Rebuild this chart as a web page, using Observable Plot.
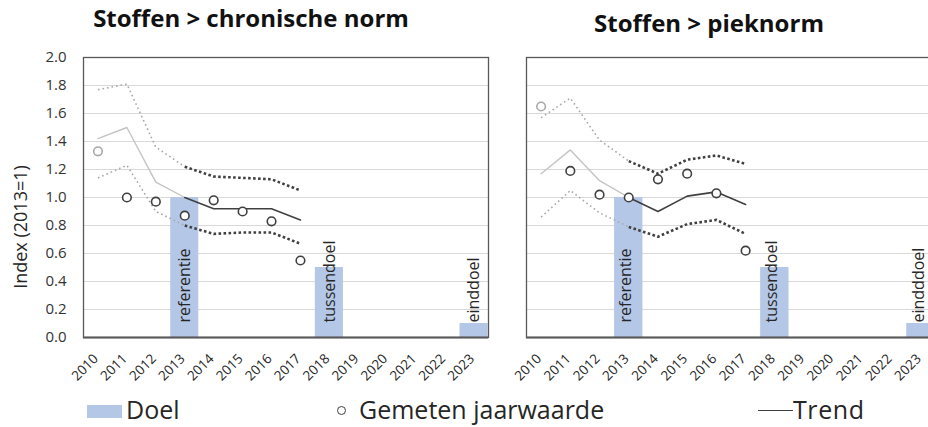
<!DOCTYPE html>
<html>
<head>
<meta charset="utf-8">
<script src="https://cdn.jsdelivr.net/npm/d3@7"></script>
<script src="https://cdn.jsdelivr.net/npm/@observablehq/plot@0.6"></script>
<style>
  html, body { margin: 0; padding: 0; background: #fff; }
  body { width: 928px; height: 427px; overflow: hidden; position: relative; font-family: "Open Sans", sans-serif; color: #262626; }
  .title { position: absolute; font-weight: bold; font-size: 24px; line-height: 24px; color: #111; white-space: nowrap; transform: translateX(-50%); }
  .ylab { position: absolute; font-size: 18px; line-height: 18px; white-space: nowrap; color: #262626; transform: translate(-50%, -50%) rotate(-90deg); }
  .plot { position: absolute; }
  .plot svg { max-width: none !important; }
  .legend { position: absolute; font-size: 25px; line-height: 25px; white-space: nowrap; color: #262626; }
</style>
</head>
<body>
<div class="title" style="left:251px; top:6px;">Stoffen &gt; chronische norm</div>
<div class="title" style="left:709px; top:11px;">Stoffen &gt; pieknorm</div>
<div class="ylab" style="left:20px; top:227px;">Index (2013=1)</div>
<div id="left" class="plot" style="left:0px; top:40px; width:500px;"></div>
<div id="right" class="plot" style="left:500px; top:40px; width:440px;"></div>
<div id="legend"></div>
<script>
// ---- data ----
const years = ["2010","2011","2012","2013","2014","2015","2016","2017","2018","2019","2020","2021","2022","2023"];
const measYears = ["2010","2011","2012","2013","2014","2015","2016","2017"];
const yTicks = [0, 0.2, 0.4, 0.6, 0.8, 1.0, 1.2, 1.4, 1.6, 1.8, 2.0];

// Stoffen > chronische norm
const chronMeasured = [1.33, 1.00, 0.97, 0.87, 0.98, 0.90, 0.83, 0.55];
const chronTrend    = [1.42, 1.50, 1.11, 1.00, 0.92, 0.92, 0.92, 0.84];
const chronUpper    = [1.77, 1.81, 1.36, 1.22, 1.15, 1.14, 1.13, 1.05];
const chronLower    = [1.14, 1.23, 0.90, 0.80, 0.74, 0.75, 0.75, 0.67];

// Stoffen > pieknorm
const piekMeasured = [1.65, 1.19, 1.02, 1.00, 1.13, 1.17, 1.03, 0.62];
const piekTrend    = [1.17, 1.34, 1.12, 1.00, 0.90, 1.01, 1.04, 0.95];
const piekUpper    = [1.57, 1.71, 1.41, 1.26, 1.17, 1.27, 1.30, 1.24];
const piekLower    = [0.86, 1.05, 0.89, 0.79, 0.72, 0.81, 0.84, 0.74];

// Doel
const goalYears = ["2013", "2018", "2023"];
const goalValues = [1.0, 0.5, 0.1];
const chronGoalLabels = ["referentie", "tussendoel", "einddoel"];
const piekGoalLabels = ["referentie", "tussendoel", "eindddoel"];

// legend
const legendLabels = ["Doel", "Gemeten jaarwaarde", "Trend"];

// ---- styles ----
const BAR = "#b4c7e7";
const DARK = "#404040";
const LIGHT = "#c4c4c4";

function segments(arr) {
  const early = [], late = [];
  measYears.forEach((yr, i) => {
    if (i <= 3) early.push({year: yr, value: arr[i]});
    if (i >= 3) late.push({year: yr, value: arr[i]});
  });
  return {early, late};
}

function panel({measured, trend, upper, lower, labels, showY, width, marginLeft, marginRight, labelDx}) {
  const goals = goalYears.map((yr, i) => ({year: yr, value: goalValues[i], label: labels[i]}));
  const pts = measYears.map((yr, i) => ({year: yr, value: measured[i], first: i === 0}));
  const t = segments(trend), u = segments(upper), l = segments(lower);
  const earlyDot = {stroke: "#a8a8a8", strokeWidth: 1.6, strokeDasharray: "1.6,3", strokeLinecap: "butt"};
  const lateDot = {stroke: DARK, strokeWidth: 2.6, strokeDasharray: "2.6,2.4", strokeLinecap: "butt"};
  const marks = [
    Plot.gridY(yTicks, {stroke: "#d9d9d9", strokeOpacity: 1, strokeWidth: 1.2}),
    Plot.barY(goals, {x: "year", y: "value", fill: BAR}),
    Plot.text(goals, {x: "year", y: 0, text: "label", rotate: -90, textAnchor: "start", lineAnchor: "middle", dy: -15, dx: labelDx, fontSize: 16, fill: "#262626"}),
    // early (light) segments
    Plot.lineY(u.early, {x: "year", y: "value", ...earlyDot}),
    Plot.lineY(l.early, {x: "year", y: "value", ...earlyDot}),
    Plot.lineY(t.early, {x: "year", y: "value", stroke: LIGHT, strokeWidth: 1.4}),
    // late (dark) segments
    Plot.lineY(u.late, {x: "year", y: "value", ...lateDot}),
    Plot.lineY(l.late, {x: "year", y: "value", ...lateDot}),
    Plot.lineY(t.late, {x: "year", y: "value", stroke: DARK, strokeWidth: 1.6}),
    Plot.dot(pts, {x: "year", y: "value", r: 4.3, fill: "white", stroke: d => d.first ? "#a8a8a8" : DARK, strokeWidth: 1.6}),
    Plot.frame({stroke: "#595959", strokeWidth: 1.3}),
    Plot.ruleY([0], {stroke: "#595959", strokeWidth: 2}),
    Plot.axisX({tickRotate: -45, tickSize: 0, tickPadding: 19, dx: -2, fontSize: 13.5, fill: "#262626", label: null})
  ];
  if (showY) {
    marks.push(Plot.axisY(yTicks, {tickSize: 0, tickPadding: 17, fontSize: 15, fill: "#333", tickFormat: d => d.toFixed(1), label: null}));
  }
  return Plot.plot({
    width, height: 347,
    marginLeft, marginRight, marginTop: 17, marginBottom: 50,
    x: {type: "band", domain: years, paddingInner: 0.03, paddingOuter: 0.015, round: false, label: null},
    y: {domain: [0, 2], label: null, axis: showY ? undefined : null},
    style: {fontFamily: "Open Sans", background: "transparent", overflow: "visible", color: "#262626", maxWidth: "none"},
    marks
  });
}

document.getElementById("left").append(panel({
  measured: chronMeasured, trend: chronTrend, upper: chronUpper, lower: chronLower,
  labels: chronGoalLabels, showY: true, width: 500, marginLeft: 83, marginRight: 12, labelDx: 0
}));
document.getElementById("right").append(panel({
  measured: piekMeasured, trend: piekTrend, upper: piekUpper, lower: piekLower,
  labels: piekGoalLabels, showY: false, width: 440, marginLeft: 26, marginRight: 5, labelDx: -2.5
}));

// ---- legend ----
const lg = document.getElementById("legend");
function addLegend(html, left) {
  const d = document.createElement("div");
  d.className = "legend";
  d.style.left = left + "px";
  d.style.top = "397px";
  d.innerHTML = html;
  lg.append(d);
}
addLegend(`<span style="display:inline-block;width:35px;height:13px;background:${BAR};vertical-align:1px;margin-right:4px"></span>${legendLabels[0]}`, 87);
addLegend(`<span style="display:inline-block;width:7px;height:7px;border:1.4px solid ${DARK};border-radius:50%;vertical-align:4px;margin-right:13px"></span>${legendLabels[1]}`, 337);
addLegend(`<span style="display:inline-block;width:35px;height:0;border-top:1.8px solid ${DARK};vertical-align:8px;margin-right:0px"></span><span style="letter-spacing:0.6px">${legendLabels[2]}</span>`, 758);
</script>
</body>
</html>
